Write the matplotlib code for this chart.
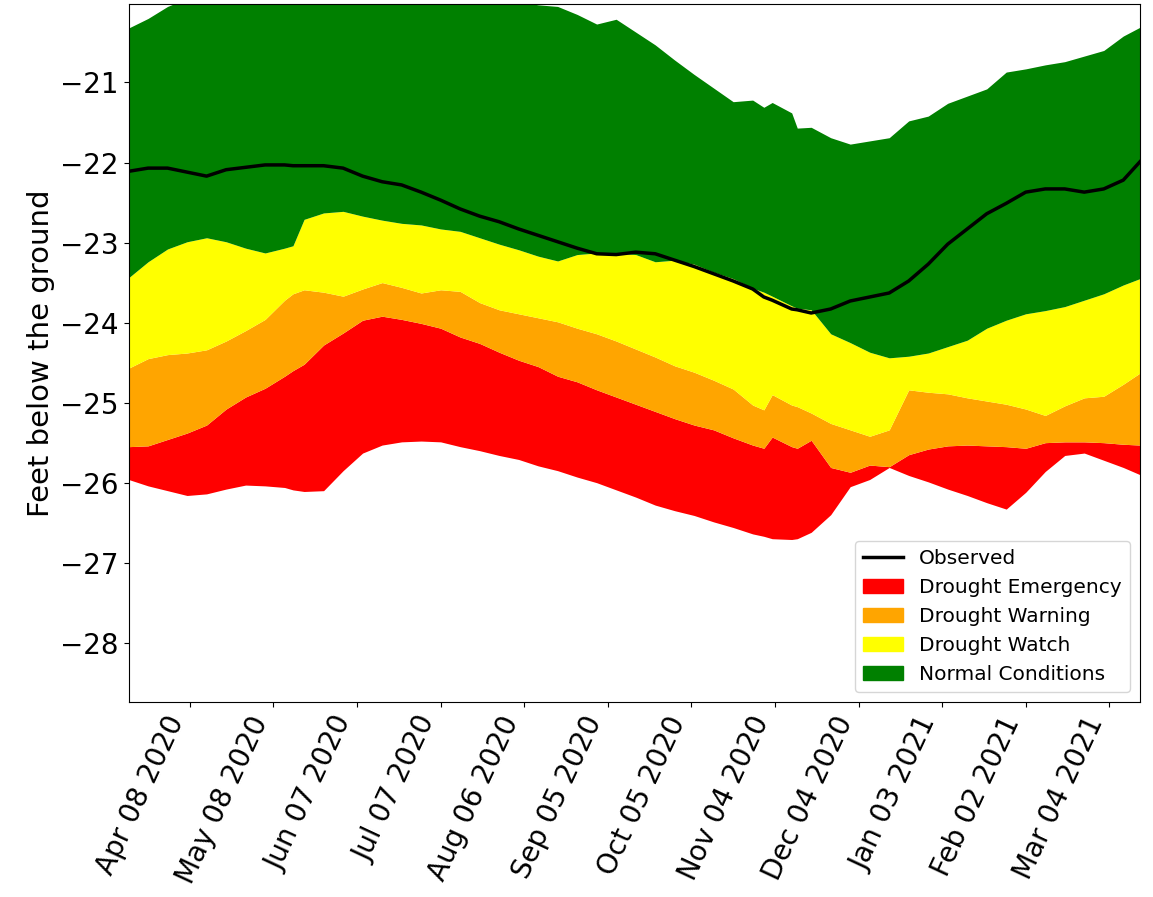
import numpy as np
import pandas as pd
import matplotlib
matplotlib.use("Agg")
import matplotlib.pyplot as plt
import matplotlib.dates as mdates
from matplotlib.lines import Line2D
from matplotlib.patches import Patch

# sample days, counted from the first record
start = pd.Timestamp("2020-03-17")
days = [0, 7, 14, 21, 28, 35, 42, 49, 56, 59, 63, 70, 77, 84, 91, 98, 105, 112,
        119, 126, 133, 140, 147, 154, 161, 168, 175, 182, 189, 196, 203, 210,
        217, 224, 228, 231, 238, 240, 245, 252, 259, 266, 273, 280, 287, 294,
        301, 308, 315, 322, 329, 336, 343, 350, 357, 363]

# band edges (feet below ground), lowest to highest
emergency_low = [-25.96, -26.04, -26.10, -26.16, -26.14, -26.08, -26.03, -26.04,
                 -26.06, -26.09, -26.11, -26.10, -25.85, -25.63, -25.53, -25.49,
                 -25.48, -25.49, -25.55, -25.60, -25.66, -25.71, -25.79, -25.85,
                 -25.93, -26.00, -26.09, -26.18, -26.28, -26.35, -26.41, -26.49,
                 -26.56, -26.64, -26.67, -26.70, -26.71, -26.70, -26.62, -26.40,
                 -26.05, -25.96, -25.81, -25.91, -25.99, -26.08, -26.16, -26.25,
                 -26.33, -26.12, -25.86, -25.66, -25.63, -25.72, -25.81, -25.90]
warning_low = [-25.55, -25.54, -25.46, -25.38, -25.28, -25.08, -24.93, -24.82,
               -24.67, -24.60, -24.52, -24.28, -24.13, -23.97, -23.92, -23.96,
               -24.01, -24.07, -24.18, -24.26, -24.37, -24.47, -24.55, -24.67,
               -24.74, -24.84, -24.93, -25.02, -25.11, -25.20, -25.28, -25.34,
               -25.44, -25.53, -25.57, -25.43, -25.55, -25.57, -25.47, -25.81,
               -25.87, -25.78, -25.80, -25.65, -25.58, -25.54, -25.53, -25.54,
               -25.55, -25.57, -25.50, -25.49, -25.49, -25.50, -25.52, -25.53]
watch_low = [-24.57, -24.45, -24.40, -24.38, -24.34, -24.23, -24.10, -23.96,
             -23.72, -23.64, -23.59, -23.62, -23.67, -23.58, -23.50, -23.56,
             -23.63, -23.59, -23.61, -23.75, -23.84, -23.89, -23.94, -23.99,
             -24.07, -24.14, -24.23, -24.33, -24.43, -24.54, -24.62, -24.72,
             -24.83, -25.03, -25.09, -24.90, -25.03, -25.05, -25.13, -25.26,
             -25.34, -25.42, -25.34, -24.84, -24.87, -24.89, -24.94, -24.98,
             -25.02, -25.08, -25.16, -25.04, -24.94, -24.92, -24.77, -24.63]
normal_low = [-23.44, -23.24, -23.08, -22.99, -22.94, -22.99, -23.07, -23.13,
              -23.07, -23.04, -22.71, -22.63, -22.61, -22.67, -22.72, -22.76,
              -22.78, -22.83, -22.86, -22.94, -23.02, -23.09, -23.17, -23.23,
              -23.15, -23.13, -23.13, -23.15, -23.24, -23.22, -23.27, -23.37,
              -23.45, -23.57, -23.62, -23.67, -23.79, -23.82, -23.84, -24.14,
              -24.25, -24.37, -24.44, -24.42, -24.38, -24.30, -24.22, -24.07,
              -23.97, -23.89, -23.85, -23.80, -23.72, -23.64, -23.53, -23.45]
normal_high = [-20.32, -20.20, -20.05, -19.95, -19.90, -19.88, -19.85, -19.83,
               -19.82, -19.82, -19.80, -19.80, -19.80, -19.80, -19.82, -19.84,
               -19.86, -19.88, -19.90, -19.93, -19.96, -19.99, -20.03, -20.05,
               -20.15, -20.27, -20.21, -20.37, -20.53, -20.72, -20.90, -21.07,
               -21.24, -21.22, -21.31, -21.25, -21.38, -21.57, -21.56, -21.69,
               -21.77, -21.73, -21.69, -21.48, -21.42, -21.26, -21.17, -21.08,
               -20.87, -20.83, -20.78, -20.74, -20.67, -20.60, -20.42, -20.31]
observed = [-22.11, -22.07, -22.07, -22.12, -22.17, -22.09, -22.06, -22.03,
            -22.03, -22.04, -22.04, -22.04, -22.07, -22.17, -22.24, -22.28,
            -22.37, -22.47, -22.58, -22.67, -22.74, -22.83, -22.91, -22.99,
            -23.07, -23.14, -23.15, -23.12, -23.14, -23.22, -23.30, -23.39,
            -23.48, -23.58, -23.68, -23.72, -23.83, -23.84, -23.88, -23.83,
            -23.73, -23.68, -23.63, -23.48, -23.27, -23.02, -22.83, -22.64,
            -22.51, -22.37, -22.33, -22.33, -22.37, -22.33, -22.22, -21.99]

dates = start + pd.to_timedelta(days, unit="D")

fig = plt.figure(figsize=(11.53, 8.97), dpi=100)
ax = fig.add_axes([0.1115, 0.2174, 0.8772, 0.7781])

ax.fill_between(dates, emergency_low, warning_low, color="red", lw=0)
ax.fill_between(dates, warning_low, watch_low, color="orange", lw=0)
ax.fill_between(dates, watch_low, normal_low, color="yellow", lw=0)
ax.fill_between(dates, normal_low, normal_high, color="green", lw=0)
ax.plot(dates, observed, color="black", lw=2.5)

ax.set_xlim(dates[0], dates[-1])
ax.set_ylim(-28.74, -20.02)
ax.set_yticks(np.arange(-28, -20))
ax.set_ylabel("Feet below the ground", fontsize=21)
ax.tick_params(axis="y", labelsize=20)

xt = pd.date_range("2020-04-08", periods=12, freq="30D")
ax.set_xticks(xt)
ax.xaxis.set_major_formatter(mdates.DateFormatter("%b %d %Y"))
plt.setp(ax.get_xticklabels(), rotation=65, ha="right", fontsize=20)

handles = [Line2D([], [], color="black", lw=2.5),
           Patch(color="red"), Patch(color="orange"),
           Patch(color="yellow"), Patch(color="green")]
labels = ["Observed", "Drought Emergency", "Drought Warning",
          "Drought Watch", "Normal Conditions"]
ax.legend(handles, labels, loc="lower right", fontsize=14.5)

fig.savefig("out.png", dpi=100)
